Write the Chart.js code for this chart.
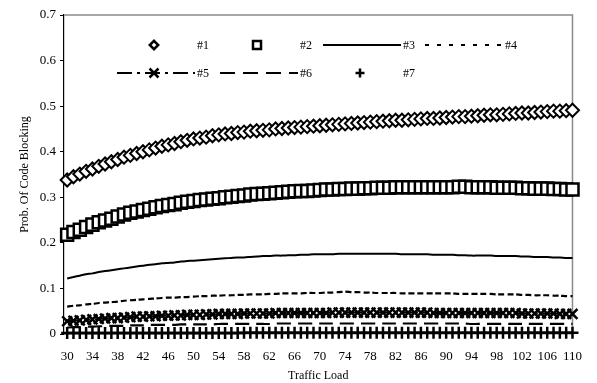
<!DOCTYPE html>
<html>
<head>
<meta charset="utf-8">
<title>Prob. Of Code Blocking</title>
<script src="https://cdn.jsdelivr.net/npm/chart.js@4.4.1/dist/chart.umd.min.js"></script>
<style>
    html, body { margin: 0; padding: 0; background: #fff; }
    #wrap { width: 597px; height: 383px; position: relative; }
</style>
</head>
<body>
<div id="wrap"><canvas id="chart-blocking"></canvas></div>
<script>
// Traffic load (x) and tick labels
const loads = [
    30, 31, 32, 33, 34, 35, 36, 37, 38, 39, 40, 41, 42, 43, 44, 45, 46, 47, 48, 49,
    50, 51, 52, 53, 54, 55, 56, 57, 58, 59, 60, 61, 62, 63, 64, 65, 66, 67, 68, 69,
    70, 71, 72, 73, 74, 75, 76, 77, 78, 79, 80, 81, 82, 83, 84, 85, 86, 87, 88, 89,
    90, 91, 92, 93, 94, 95, 96, 97, 98, 99, 100, 101, 102, 103, 104, 105, 106, 107, 108, 109,
    110
];
const loadTicks = [30, 34, 38, 42, 46, 50, 54, 58, 62, 66, 70, 74, 78, 82, 86, 90, 94, 98, 102, 106, 110];
const probTicks = [0, 0.1, 0.2, 0.3, 0.4, 0.5, 0.6, 0.7];

const seriesNames = ['#1', '#2', '#3', '#4', '#5', '#6', '#7'];

// Probability of code blocking per scheme
const s1 = [
    .338, .345, .351, .357, .362, .368, .373, .378, .383, .388, .392, .396, .400, .404, .408, .412,
    .415, .418, .422, .425, .428, .430, .432, .435, .437, .439, .440, .442, .443, .445, .446,
    .447, .448, .450, .451, .452, .453, .454, .455, .456, .457, .458, .459, .460, .461, .462,
    .463, .464, .465, .466, .467, .468, .469, .469, .470, .471, .472, .473, .473, .474, .475,
    .476, .477, .477, .478, .479, .480, .481, .481, .482, .483, .484, .485, .485, .486, .487,
    .488, .489, .489, .490, .491
];
const s2 = [
    .218, .224, .229, .235, .240, .245, .249, .253, .258, .262, .266, .269, .272, .275, .278, .281,
    .283, .285, .288, .290, .292, .294, .295, .297, .298, .300, .301, .303, .304, .306, .307,
    .308, .309, .310, .311, .312, .313, .314, .314, .315, .316, .317, .317, .318, .318, .319,
    .319, .320, .320, .321, .321, .321, .322, .322, .322, .322, .322, .322, .322, .322, .322,
    .322, .323, .323, .322, .322, .322, .322, .321, .321, .321, .321, .320, .320, .319, .319,
    .319, .318, .318, .317, .317
];
const s3 = [
    .122, .125, .128, .131, .133, .136, .138, .140, .142, .144, .146, .148, .150, .152, .153, .155,
    .156, .157, .159, .160, .161, .162, .163, .164, .165, .166, .167, .168, .168, .169, .170,
    .171, .171, .172, .172, .173, .173, .174, .174, .175, .175, .175, .175, .176, .176, .176,
    .176, .176, .176, .176, .176, .176, .176, .175, .175, .175, .175, .175, .174, .174, .174,
    .174, .173, .173, .172, .172, .172, .172, .171, .171, .171, .171, .170, .170, .169, .169,
    .169, .168, .168, .167, .167
];
const s4 = [
    .060, .062, .063, .065, .066, .068, .069, .070, .071, .073, .074, .075, .076, .077, .078, .079,
    .080, .080, .081, .081, .082, .083, .083, .084, .084, .085, .085, .086, .086, .087, .087,
    .087, .088, .088, .089, .089, .089, .089, .090, .090, .090, .091, .091, .092, .093, .092,
    .092, .091, .091, .090, .090, .090, .090, .089, .089, .089, .089, .089, .089, .089, .089,
    .089, .088, .088, .088, .088, .088, .088, .087, .087, .087, .087, .086, .086, .085, .085,
    .085, .084, .084, .083, .083
];
const s5 = [
    .028, .029, .030, .031, .032, .033, .034, .035, .035, .036, .037, .038, .038, .039, .039, .040,
    .040, .041, .041, .042, .042, .042, .043, .043, .044, .044, .044, .044, .045, .045, .045,
    .045, .045, .046, .046, .046, .046, .046, .046, .046, .046, .046, .047, .047, .047, .047,
    .047, .047, .047, .047, .047, .047, .047, .047, .047, .047, .047, .047, .046, .046, .046,
    .046, .046, .046, .046, .046, .046, .046, .046, .046, .046, .046, .045, .045, .045, .045,
    .045, .045, .044, .044, .044
];
const s6 = [
    .014, .015, .015, .016, .016, .017, .017, .018, .018, .018, .019, .019, .019, .020, .020, .020,
    .020, .020, .021, .021, .021, .021, .021, .021, .022, .022, .022, .022, .022, .022, .022,
    .022, .022, .023, .023, .023, .023, .023, .023, .023, .023, .023, .023, .023, .023, .023,
    .023, .023, .023, .023, .023, .023, .023, .023, .023, .023, .023, .023, .023, .023, .023,
    .023, .023, .023, .022, .022, .022, .022, .022, .022, .022, .022, .022, .022, .022, .022,
    .022, .022, .022, .022, .022
];
const s7 = [
    .002, .002, .002, .002, .002, .002, .002, .002, .002, .002, .002, .002, .002, .002, .002, .002,
    .002, .002, .002, .002, .002, .002, .002, .002, .002, .002, .002, .002, .003, .003, .003,
    .003, .003, .003, .003, .003, .003, .003, .003, .003, .003, .003, .003, .003, .003, .003,
    .003, .003, .003, .003, .003, .003, .003, .003, .003, .003, .003, .003, .003, .003, .003,
    .003, .003, .003, .003, .003, .003, .003, .003, .003, .003, .003, .003, .003, .003, .003,
    .003, .003, .003, .003, .003
];

const FONT_FAMILY = '"Liberation Serif", "Times New Roman", serif';
const BLACK = '#000';

const toPoints = vals => loads.map((x, i) => ({ x: x, y: vals[i] }));

// Marker / line styles per series
const STYLES = [
    { showLine: false, pointStyle: 'rectRot', pointRadius: 6.5, pointBorderWidth: 2, pointBackgroundColor: '#fff' },
    { showLine: false, pointStyle: 'rect', pointRadius: 8.5, pointBorderWidth: 2.5, pointBackgroundColor: '#fff' },
    { showLine: true, borderWidth: 2, pointRadius: 0 },
    { showLine: true, borderWidth: 2.2, borderDash: [6, 3], pointRadius: 0 },
    { showLine: true, borderWidth: 2, borderDash: [15, 5, 3, 5], pointStyle: 'crossRot', pointRadius: 7, pointBorderWidth: 2.5 },
    { showLine: true, borderWidth: 2.2, borderDash: [14, 7], pointRadius: 0 },
    { showLine: false, pointStyle: 'cross', pointRadius: 6, pointBorderWidth: 2.5 }
];

// Legend samples: dash patterns and marker sizes
const LEGEND_DASH = [[], [], [], [4, 8], [15, 5, 3, 5], [15, 8], []];
const LEGEND_RADIUS = [4.2, 4, 0, 0, 4.5, 0, 4.5];
const LEGEND_SLOTS = [
    { x: 117, y: 45 }, { x: 220, y: 45 }, { x: 323, y: 45 }, { x: 425, y: 45 },
    { x: 117, y: 73 }, { x: 220, y: 73 }, { x: 323, y: 73 }
];

const allSeries = [s1, s2, s3, s4, s5, s6, s7];

const datasets = allSeries.map((vals, i) => Object.assign({
    label: seriesNames[i],
    data: toPoints(vals),
    borderColor: BLACK,
    pointBorderColor: BLACK,
    pointBackgroundColor: BLACK,
    pointHoverRadius: 0,
    tension: 0.2,
    clip: false
}, STYLES[i]));

// Gray frame on top and right of the plot area
const frameTopRight = {
    id: 'frameTopRight',
    beforeDatasetsDraw(chart) {
        const { ctx, chartArea: a } = chart;
        ctx.save();
        ctx.strokeStyle = '#8a8a8a';
        ctx.lineWidth = 1.5;
        ctx.beginPath();
        ctx.moveTo(a.left, a.top);
        ctx.lineTo(a.right, a.top);
        ctx.lineTo(a.right, a.bottom);
        ctx.stroke();
        ctx.restore();
    }
};

function drawMarker(ctx, style, x, y, radius) {
    ctx.save();
    ctx.lineWidth = 2.5;
    ctx.strokeStyle = BLACK;
    ctx.fillStyle = style.pointBackgroundColor || BLACK;
    ctx.setLineDash([]);
    ctx.beginPath();
    if (style.pointStyle === 'rectRot') {
        ctx.moveTo(x, y - radius);
        ctx.lineTo(x + radius, y);
        ctx.lineTo(x, y + radius);
        ctx.lineTo(x - radius, y);
        ctx.closePath();
        ctx.fill();
    } else if (style.pointStyle === 'rect') {
        ctx.rect(x - radius, y - radius, radius * 2, radius * 2);
        ctx.fill();
    } else if (style.pointStyle === 'crossRot') {
        ctx.moveTo(x - radius, y - radius); ctx.lineTo(x + radius, y + radius);
        ctx.moveTo(x + radius, y - radius); ctx.lineTo(x - radius, y + radius);
    } else if (style.pointStyle === 'cross') {
        ctx.moveTo(x - radius, y); ctx.lineTo(x + radius, y);
        ctx.moveTo(x, y - radius); ctx.lineTo(x, y + radius);
    }
    ctx.stroke();
    ctx.restore();
}

// Two-row legend inside the plot area
const insideLegend = {
    id: 'insideLegend',
    afterDraw(chart) {
        const ctx = chart.ctx;
        const len = 78;
        chart.data.datasets.forEach((ds, i) => {
            const slot = LEGEND_SLOTS[i];
            const style = STYLES[i];
            ctx.save();
            if (style.showLine) {
                ctx.strokeStyle = BLACK;
                ctx.lineWidth = 2;
                ctx.setLineDash(LEGEND_DASH[i]);
                ctx.beginPath();
                ctx.moveTo(slot.x, slot.y);
                ctx.lineTo(slot.x + len, slot.y);
                ctx.stroke();
            }
            if (LEGEND_RADIUS[i] > 0) {
                drawMarker(ctx, style, slot.x + 37, slot.y, LEGEND_RADIUS[i]);
            }
            ctx.fillStyle = BLACK;
            ctx.font = '12px ' + FONT_FAMILY;
            ctx.textBaseline = 'middle';
            ctx.textAlign = 'left';
            ctx.fillText(ds.label, slot.x + 80, slot.y + 1);
            ctx.restore();
        });
    }
};

new Chart(document.getElementById('chart-blocking'), {
    type: 'line',
    data: { datasets: datasets },
    options: {
        responsive: true,
        maintainAspectRatio: false,
        animation: false,
        events: [],
        layout: { padding: { top: 15, right: 18, left: 0, bottom: 0 } },
        plugins: {
            legend: { display: false },
            tooltip: { enabled: false }
        },
        scales: {
            x: {
                type: 'linear',
                min: 29.5,
                max: 110,
                afterBuildTicks: scale => { scale.ticks = loadTicks.map(v => ({ value: v })); },
                afterFit: scale => { scale.height = 49; },
                grid: { display: false, drawTicks: false },
                border: { display: true, color: BLACK, width: 1.2 },
                ticks: {
                    padding: 15,
                    maxRotation: 0,
                    autoSkip: false,
                    color: BLACK,
                    font: { family: FONT_FAMILY, size: 13 },
                    callback: v => String(v)
                },
                title: {
                    display: true,
                    text: 'Traffic Load',
                    color: BLACK,
                    font: { family: FONT_FAMILY, size: 12 },
                    padding: { top: 0, bottom: 0 }
                }
            },
            y: {
                min: 0,
                max: 0.7,
                afterBuildTicks: scale => { scale.ticks = probTicks.map(v => ({ value: v })); },
                afterFit: scale => { scale.width = 64; },
                grid: { drawOnChartArea: false, drawTicks: true, tickLength: 4, color: BLACK },
                border: { display: true, color: BLACK, width: 1.2 },
                ticks: {
                    padding: 4,
                    color: BLACK,
                    font: { family: FONT_FAMILY, size: 13 },
                    callback: v => String(+v.toFixed(1))
                },
                title: {
                    display: true,
                    text: 'Prob. Of Code Blocking',
                    color: BLACK,
                    font: { family: FONT_FAMILY, size: 12 },
                    padding: { top: 18, bottom: 0 }
                }
            }
        }
    },
    plugins: [frameTopRight, insideLegend]
});
</script>
</body>
</html>
